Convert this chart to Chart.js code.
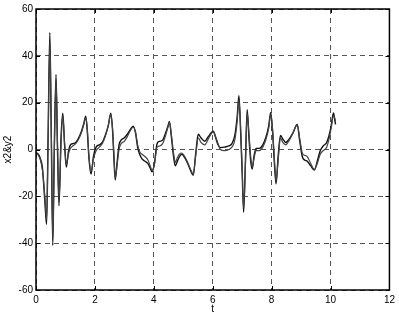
<!DOCTYPE html>
<html>
<head>
<meta charset="utf-8">
<script src="https://cdn.jsdelivr.net/npm/chart.js@4"></script>
<style>
html,body{margin:0;padding:0;background:#fff;}
canvas{display:block;}
</style>
</head>
<body>
<canvas id="c" width="399" height="316"></canvas>
<script>
const t = [0.00,0.08,0.15,0.22,0.30,0.36,0.41,0.47,0.52,0.57,0.62,0.68,0.73,0.78,0.85,0.91,0.97,1.03,1.10,1.17,1.25,1.35,1.45,1.55,1.62,1.69,1.74,1.80,1.87,1.95,2.04,2.15,2.25,2.35,2.45,2.54,2.60,2.65,2.69,2.75,2.82,2.89,3.00,3.10,3.20,3.30,3.38,3.45,3.52,3.60,3.70,3.80,3.88,3.94,4.02,4.11,4.20,4.30,4.40,4.48,4.53,4.60,4.67,4.73,4.80,4.87,4.95,5.05,5.15,5.25,5.34,5.42,5.51,5.60,5.73,5.85,6.02,6.10,6.18,6.26,6.40,6.55,6.65,6.75,6.83,6.89,6.94,7.00,7.05,7.11,7.17,7.23,7.29,7.34,7.40,7.47,7.58,7.70,7.80,7.90,7.97,8.03,8.09,8.15,8.22,8.30,8.38,8.48,8.60,8.72,8.87,8.95,9.04,9.12,9.21,9.33,9.45,9.55,9.65,9.75,9.87,9.95,10.02,10.10,10.14,10.17];
const x2 = [-1.5,-2,-4,-8,-22,-32,5,50,5,-41,0,32,0,-24,5,15.5,2,-7.5,-1,2,2.5,3,5,8,11,14.2,8,-4,-10.5,-3,1,2,3,6,10,15.5,8,-5,-13,-6,2,4,5,6.5,8.5,10,7,1,-2,-4,-5,-6,-8,-9.5,-6,2.5,3.5,4,7,10,12,5,-3,-7,-5,-3,-2,-3.5,-6,-9,-11,-2,6.5,5,3.5,5.5,7.8,5,2,0.8,1,1.5,2.5,6,14,23,10,-10,-26.8,-5,17,5,-5,-8.4,-3,0.5,0.5,2,5,10,15.8,8,-5,-14.7,-3,6,4.5,3,4.5,7,10.7,4,-3,-4.5,-5,-7,-8.8,-5,-0.5,1.5,3,6,10,15.6,13,10.7];
const y2 = [-1,-2.5,-4.5,-9,-20,-30,2,46,8,-38,-3,30,3,-22,3,14.5,3,-6.5,-2,0.5,1.5,2.5,4.5,7.5,10.5,13.5,9,-3,-9.5,-4,-0.5,1,2.5,5.5,10,15,9,-3,-12,-7,0,2.5,3.5,5.5,8,9.5,7.5,2,-1,-2,-3,-4.5,-7,-9,-6.5,1,1.5,2.5,6,9.5,11.5,6,-1.5,-5.5,-3.5,-2,-1.5,-3,-5.5,-8.5,-10.5,-3,5,3,2,4.5,7.5,5.5,2.5,0,-0.5,0,1,4,12,21,12,-8,-25,-7,15.5,7,-3,-7.5,-4,-0.5,-0.5,1,4,9,15,9,-3,-13.5,-5,5,3,2,4,7,10.5,5,-1.5,-2.5,-3,-6,-8.5,-6,-2,-0.5,1,4.5,9,14.5,13.5,12];
const xTicks = [0,2,4,6,8,10,12];
const yTicks = [-60,-40,-20,0,20,40,60];

const font = {family: '"Liberation Sans", Arial, sans-serif', size: 10};

const frame = {
  id: 'frame',
  afterDraw(chart) {
    const {ctx, chartArea: a, scales} = chart;
    ctx.save();
    ctx.strokeStyle = '#000';
    ctx.lineWidth = 1;
    ctx.setLineDash([]);
    ctx.beginPath();
    xTicks.forEach(v => {
      const px = Math.round(scales.x.getPixelForValue(v)) + 0.5;
      ctx.moveTo(px, a.bottom); ctx.lineTo(px, a.bottom - 4);
      ctx.moveTo(px, a.top); ctx.lineTo(px, a.top + 4);
    });
    yTicks.forEach(v => {
      const py = Math.round(scales.y.getPixelForValue(v)) + 0.5;
      ctx.moveTo(a.left, py); ctx.lineTo(a.left + 4, py);
      ctx.moveTo(a.right, py); ctx.lineTo(a.right - 4, py);
    });
    ctx.stroke();
    ctx.lineWidth = 1.5;
    ctx.strokeRect(a.left, a.top, a.right - a.left, a.bottom - a.top);
    ctx.restore();
  }
};

new Chart(document.getElementById('c'), {
  type: 'line',
  data: {
    datasets: [
      {label: 'y2', data: t.map((v, i) => ({x: v, y: y2[i]})), borderColor: '#444', borderWidth: 1.2, pointRadius: 0, cubicInterpolationMode: 'monotone', fill: false},
      {label: 'x2', data: t.map((v, i) => ({x: v, y: x2[i]})), borderColor: '#111', borderWidth: 1.4, pointRadius: 0, cubicInterpolationMode: 'monotone', fill: false}
    ]
  },
  plugins: [frame],
  options: {
    responsive: false,
    animation: false,
    devicePixelRatio: 1,
    layout: {padding: {left: 0, right: 6, top: 8, bottom: 0}},
    plugins: {legend: {display: false}, tooltip: {enabled: false}},
    scales: {
      x: {
        type: 'linear', min: 0, max: 12,
        afterBuildTicks: s => { s.ticks = xTicks.map(v => ({value: v})); },
        afterFit: s => { s.height = 26; },
        ticks: {font, color: '#000', padding: 4, maxRotation: 0},
        grid: {color: '#555', lineWidth: 1, drawTicks: false},
        border: {display: false, dash: [5, 4]},
        title: {display: true, text: 't', font, color: '#000', padding: {top: 0, bottom: 1}}
      },
      y: {
        type: 'linear', min: -60, max: 60,
        afterBuildTicks: s => { s.ticks = yTicks.map(v => ({value: v})); },
        afterFit: s => { s.width = 36; },
        ticks: {font, color: '#000', padding: 3},
        grid: {color: '#555', lineWidth: 1, drawTicks: false},
        border: {display: false, dash: [5, 4]},
        title: {display: true, text: 'x2&y2', font, color: '#000', padding: {top: 2, bottom: 0}}
      }
    }
  }
});
</script>
</body>
</html>
